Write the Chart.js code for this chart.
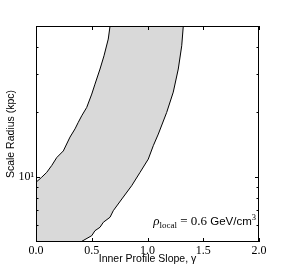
<!DOCTYPE html>
<html lang="en">
<head>
    <meta charset="UTF-8">
    <title>Scale Radius vs Inner Profile Slope</title>
    <script src="https://cdn.jsdelivr.net/npm/chart.js"></script>
    <style>
        body { margin: 0; background: #fff; }
    </style>
</head>
<body>
    <canvas id="slopeChart" width="287" height="271"></canvas>

    <script>
        // Boundaries of the allowed region (gamma, scale radius in kpc)
        const leftGamma = [0.000, 0.051, 0.096, 0.141, 0.186, 0.245, 0.305, 0.350, 0.379, 0.410, 0.455, 0.500, 0.529, 0.574, 0.610, 0.648, 0.664];
        const leftRadius = [9.45, 9.97, 10.5, 11.3, 12.3, 13.2, 15.3, 16.7, 17.9, 19.2, 21.0, 24.2, 26.9, 31.6, 36.4, 43.5, 50.0];
        const rightGamma = [0.400, 0.500, 0.529, 0.574, 0.604, 0.664, 0.693, 0.770, 0.858, 0.933, 1.007, 1.052, 1.097, 1.172, 1.231, 1.276, 1.307, 1.321];
        const rightRadius = [5.00, 5.35, 5.64, 5.85, 6.17, 6.51, 6.98, 7.91, 9.11, 10.5, 12.1, 13.96, 15.8, 19.9, 24.7, 31.6, 40.5, 50.0];

        // Axis ticks
        const xTicks = [0.0, 0.5, 1.0, 1.5, 2.0];
        const yMajorTicks = [10];
        const yMinorTicks = [6, 7, 8, 9, 20, 30, 40];
        const yRange = [5, 50];

        const toPoints = (xs, ys) => xs.map((x, i) => ({ x: x, y: ys[i] }));
        const leftLine = toPoints(leftGamma, leftRadius);
        const rightLine = toPoints(rightGamma, rightRadius);
        // closed region: along the axis corner, up the left edge, down the right edge
        const region = [{ x: 0, y: yRange[0] }].concat(leftLine, rightLine.slice().reverse());

        // Inward ticks on all four sides, frame and the density label
        const frameTicks = {
            id: 'frameTicks',
            afterDraw(chart) {
                const { ctx, chartArea: a, scales: { x, y } } = chart;
                ctx.save();
                ctx.strokeStyle = '#000';
                ctx.lineWidth = 1;
                ctx.strokeRect(a.left + 0.5, a.top + 0.5, a.right - a.left - 1, a.bottom - a.top - 1);

                ctx.beginPath();
                xTicks.forEach(v => {
                    const px = Math.round(x.getPixelForValue(v)) + 0.5;
                    ctx.moveTo(px, a.bottom); ctx.lineTo(px, a.bottom - 4);
                    ctx.moveTo(px, a.top); ctx.lineTo(px, a.top + 4);
                });
                yMajorTicks.forEach(v => {
                    const py = Math.round(y.getPixelForValue(v)) + 0.5;
                    ctx.moveTo(a.left, py); ctx.lineTo(a.left + 4, py);
                    ctx.moveTo(a.right, py); ctx.lineTo(a.right - 4, py);
                });
                yMinorTicks.forEach(v => {
                    const py = Math.round(y.getPixelForValue(v)) + 0.5;
                    ctx.moveTo(a.left, py); ctx.lineTo(a.left + 2.5, py);
                    ctx.moveTo(a.right, py); ctx.lineTo(a.right - 2.5, py);
                });
                ctx.stroke();

                // rho_local = 0.6 GeV/cm^3
                const parts = [
                    { t: '\u03C1', f: 'italic 13px "Liberation Serif"', dy: 0 },
                    { t: 'local', f: '9px "Liberation Serif"', dy: 2.5 },
                    { t: ' = 0.6 ', f: '13px "Liberation Serif"', dy: 0 },
                    { t: 'GeV/cm', f: '11.5px "Liberation Sans"', dy: 0 },
                    { t: '3', f: '8.5px "Liberation Serif"', dy: -5 }
                ];
                let total = 0;
                parts.forEach(p => { ctx.font = p.f; p.w = ctx.measureText(p.t).width; total += p.w; });
                let cx = a.right - 3 - total;
                const base = a.bottom - 17;
                ctx.fillStyle = '#000';
                ctx.textBaseline = 'alphabetic';
                parts.forEach(p => {
                    ctx.font = p.f;
                    ctx.fillText(p.t, cx, base + p.dy);
                    cx += p.w;
                });
                ctx.restore();
            }
        };

        const ctx = document.getElementById('slopeChart').getContext('2d');
        const chart = new Chart(ctx, {
            type: 'line',
            data: {
                datasets: [{
                    label: 'region',
                    data: region,
                    fill: 'shape',
                    backgroundColor: '#d9d9d9',
                    borderWidth: 0,
                    pointRadius: 0,
                    order: 2
                }, {
                    label: 'lower edge',
                    data: leftLine,
                    borderColor: '#000',
                    borderWidth: 1,
                    pointRadius: 0,
                    fill: false,
                    order: 1
                }, {
                    label: 'upper edge',
                    data: rightLine,
                    borderColor: '#000',
                    borderWidth: 1,
                    pointRadius: 0,
                    fill: false,
                    order: 1
                }]
            },
            options: {
                responsive: false,
                animation: false,
                devicePixelRatio: 1,
                layout: { padding: { top: 26, right: 28, left: 0, bottom: 0 } },
                plugins: { legend: { display: false }, tooltip: { enabled: false } },
                scales: {
                    x: {
                        type: 'linear',
                        min: 0,
                        max: 2,
                        grid: { display: false, drawTicks: false },
                        border: { display: false },
                        afterBuildTicks: scale => { scale.ticks = xTicks.map(v => ({ value: v })); },
                        afterFit: scale => { scale.height = 29; },
                        ticks: {
                            padding: 2,
                            color: '#000',
                            font: { family: '"Liberation Serif"', size: 12 },
                            callback: v => v.toFixed(1)
                        },
                        title: {
                            display: true,
                            text: 'Inner Profile Slope, \u03B3',
                            color: '#000',
                            font: { family: '"Liberation Sans"', size: 10.5 },
                            padding: { top: 0, bottom: 6 }
                        }
                    },
                    y: {
                        type: 'logarithmic',
                        min: yRange[0],
                        max: yRange[1],
                        grid: { display: false, drawTicks: false },
                        border: { display: false },
                        afterBuildTicks: scale => { scale.ticks = yMajorTicks.map(v => ({ value: v })); },
                        afterFit: scale => { scale.width = 36; },
                        ticks: {
                            padding: 2,
                            color: '#000',
                            font: { family: '"Liberation Serif"', size: 12 },
                            callback: v => '10\u00B9'
                        },
                        title: {
                            display: true,
                            text: 'Scale Radius (kpc)',
                            color: '#000',
                            font: { family: '"Liberation Sans"', size: 10.5 },
                            padding: { top: 5, bottom: 0 }
                        }
                    }
                }
            },
            plugins: [frameTicks]
        });
    </script>
</body>
</html>
